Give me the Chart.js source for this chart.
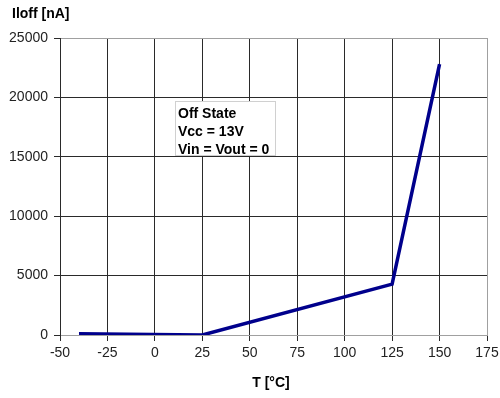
<!DOCTYPE html>
<html>
<head>
<meta charset="utf-8">
<script src="https://cdn.jsdelivr.net/npm/chart.js@4/dist/chart.umd.min.js"></script>
<style>
  html, body { margin: 0; padding: 0; background: #fff; }
  #wrap { width: 500px; height: 398px; position: relative; }
</style>
</head>
<body>
<div id="wrap"><canvas id="c" width="500" height="398"></canvas></div>
<script>
// Off-state leakage current versus junction temperature
const temperatures = [-40, 25, 125, 150];        // T [°C]
const leakageNA    = [100, 0, 4280, 22800];      // Iloff [nA]
const xTicks = [-50, -25, 0, 25, 50, 75, 100, 125, 150, 175];
const yTicks = [0, 5000, 10000, 15000, 20000, 25000];
const yAxisTitle = 'Iloff [nA]';
const xAxisTitle = 'T [°C]';
const noteLines = ['Off State', 'Vcc = 13V', 'Vin = Vout = 0'];

const points = temperatures.map((t, i) => ({ x: t, y: leakageNA[i] }));
const FONT = 'Arial, "Liberation Sans", sans-serif';

// Axis captions and the operating-condition note
const captions = {
  id: 'captions',
  beforeDatasetsDraw(chart) {
    const { ctx, chartArea } = chart;
    const bx = chartArea.left + 115, by = chartArea.top + 63, bw = 100, bh = 54;
    ctx.save();
    ctx.fillStyle = '#ffffff';
    ctx.fillRect(bx, by, bw, bh);
    ctx.strokeStyle = '#d0d0d0';
    ctx.lineWidth = 1;
    ctx.strokeRect(bx + 0.5, by + 0.5, bw, bh);
    ctx.fillStyle = '#000';
    ctx.font = 'bold 14px ' + FONT;
    ctx.textBaseline = 'middle';
    ctx.textAlign = 'left';
    noteLines.forEach((s, i) => ctx.fillText(s, bx + 3, by + 13 + i * 18));
    ctx.restore();
  },
  afterDraw(chart) {
    const { ctx, chartArea } = chart;
    ctx.save();
    ctx.fillStyle = '#000';
    ctx.font = 'bold 14px ' + FONT;
    ctx.textBaseline = 'middle';
    ctx.textAlign = 'left';
    ctx.fillText(yAxisTitle, 12, 14);
    ctx.textAlign = 'center';
    ctx.fillText(xAxisTitle, 271, 383);
    ctx.restore();
  }
};

const gridColor = '#2a2a2a';
const edgeColor = '#a0a0a0';

new Chart(document.getElementById('c'), {
  type: 'scatter',
  data: {
    datasets: [{
      data: points,
      showLine: true,
      borderColor: '#00008c',
      borderWidth: 3.5,
      pointRadius: 0,
      pointHoverRadius: 0,
      tension: 0,
      fill: false
    }]
  },
  options: {
    responsive: false,
    animation: false,
    devicePixelRatio: 1,
    layout: { padding: { left: 0, right: 13, top: 38, bottom: 0 } },
    plugins: { legend: { display: false }, tooltip: { enabled: false }, title: { display: false } },
    scales: {
      x: {
        type: 'linear',
        min: -50, max: 175,
        afterBuildTicks(scale) { scale.ticks = xTicks.map(v => ({ value: v })); },
        afterFit(scale) { scale.height = 63; scale.paddingRight = 0; scale.paddingLeft = 0; },
        ticks: { color: '#222', font: { family: FONT, size: 14 }, padding: 4, maxRotation: 0, autoSkip: false,
                 callback: v => String(v) },
        grid: {
          color: c => (c.tick && c.tick.value === 175) ? edgeColor : gridColor,
          lineWidth: 1,
          tickLength: 6,
          tickColor: gridColor
        },
        border: { color: edgeColor, width: 1 }
      },
      y: {
        type: 'linear',
        min: 0, max: 25000,
        afterBuildTicks(scale) { scale.ticks = yTicks.map(v => ({ value: v })); },
        afterFit(scale) { scale.width = 60; scale.paddingTop = 0; scale.paddingBottom = 0; },
        ticks: { color: '#222', font: { family: FONT, size: 14 }, padding: 6, autoSkip: false,
                 callback: v => String(v) },
        grid: {
          color: c => (c.tick && c.tick.value === 25000) ? edgeColor : gridColor,
          lineWidth: 1,
          tickLength: 6,
          tickColor: gridColor
        },
        border: { color: gridColor, width: 1 }
      }
    }
  },
  plugins: [captions]
});
</script>
</body>
</html>
